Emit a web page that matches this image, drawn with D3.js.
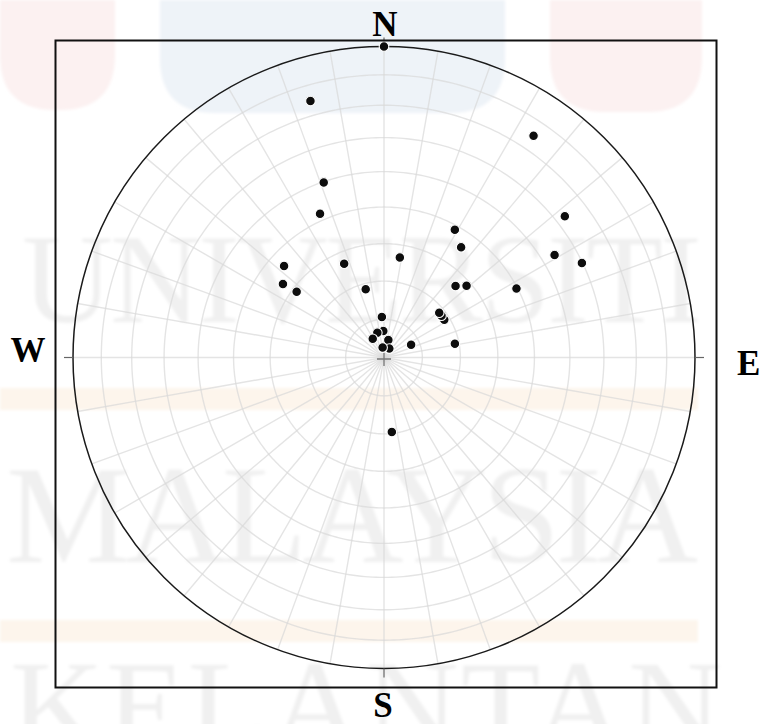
<!DOCTYPE html>
<html>
<head>
<meta charset="utf-8">
<script src="https://cdn.jsdelivr.net/npm/d3@7"></script>
<style>
  html, body { margin: 0; padding: 0; background: #fff; }
  svg { display: block; }
</style>
</head>
<body>
<svg id="chart" width="759" height="724"></svg>
<script>
// Poles to discontinuity planes: trend (deg, clockwise from N) and plunge (deg)
const poleTrend = [
  344, 341, 336, 312.5, 306, 307, 337, 345, 9, 34, 52, 29, 35, 59, 64.5, 45, 49, 62.5,
  58, 54, 51, 65, 79, 357, 358.5, 345, 329, 14, 31, 352, 0, 174
];
const polePlunge = [
  15.3, 40.2, 48.1, 54.1, 57.0, 61.2, 63.2, 71.5, 63.4, 15.1, 27.1, 51.2, 54.4, 36.2, 30.2, 63.4, 61.2, 50.3,
  71.4, 71.4, 71.4, 82.2, 71.1, 79.4, 83.1, 83.3, 84.3, 85.3, 87.3, 87.4, 0, 70.4
];

// Compass labels
const dirLabels = ["N", "E", "S", "W"];
const dirAzimuth = [0, 90, 180, 270];

// Grid spacing (degrees) for the polar net
const ringPlunges = [10, 20, 30, 40, 50, 60, 70, 80];
const radialTrends = d3.range(0, 360, 10);

const svg = d3.select("#chart");
const W = 759, H = 724;
const cx = 384, cy = 357.5, R = 311;

// ---- faint letterhead background ----
const defs = svg.append("defs");
defs.append("filter").attr("id", "soft")
  .attr("x", "-5%").attr("y", "-5%").attr("width", "110%").attr("height", "110%")
  .append("feGaussianBlur").attr("stdDeviation", 1.6);

const bg = svg.append("g");
bg.append("rect").attr("width", W).attr("height", H).attr("fill", "#fff");
const soft = bg.append("g").attr("filter", "url(#soft)");
const blobs = [
  { x: 0, w: 115, h: 110, c: "#fcf1f1" },
  { x: 160, w: 345, h: 113, c: "#eef3f8" },
  { x: 550, w: 152, h: 112, c: "#fcf1f1" }
];
soft.selectAll("path.blob").data(blobs).join("path")
  .attr("class", "blob")
  .attr("fill", d => d.c)
  .attr("d", d => {
    const r = Math.min(d.w / 2, 55);
    return `M${d.x},0 H${d.x + d.w} V${d.h - r} Q${d.x + d.w},${d.h} ${d.x + d.w - r},${d.h} H${d.x + r} Q${d.x},${d.h} ${d.x},${d.h - r} Z`;
  });
soft.selectAll("rect.band").data([388, 620]).join("rect")
  .attr("class", "band")
  .attr("x", 0).attr("y", d => d).attr("width", 698).attr("height", 22)
  .attr("fill", "#fdf5ec");
const wm = [
  { t: "UNIVERSITI", x: 22, y: 322, len: 680, fs: 126 },
  { t: "MALAYSIA", x: 6, y: 562, len: 692, fs: 140 },
  { t: "KELANTAN", x: 10, y: 750, len: 712, fs: 130 }
];
soft.selectAll("text.wm").data(wm).join("text")
  .attr("class", "wm")
  .attr("x", d => d.x).attr("y", d => d.y)
  .attr("textLength", d => d.len).attr("lengthAdjust", "spacing")
  .attr("font-family", "Liberation Serif, Times New Roman, serif")
  .attr("font-size", d => d.fs)
  .attr("fill", "#000").attr("fill-opacity", 0.06)
  .text(d => d.t);

// ---- equal-area (Schmidt) lower-hemisphere projection ----
const proj = d3.geoAzimuthalEqualArea()
  .rotate([0, -90])
  .scale(R / Math.SQRT2)
  .translate([cx, cy])
  .precision(0.1);
const geo = d3.geoPath(proj);
const toLonLat = (trend, plunge) => [180 - trend, plunge];

// Polar grid
const grid = svg.append("g")
  .attr("fill", "none")
  .attr("stroke", "#d9d9d9")
  .attr("stroke-opacity", 0.7)
  .attr("stroke-width", 1.4);
grid.selectAll("path.ring").data(ringPlunges).join("path")
  .attr("class", "ring")
  .attr("d", p => geo(d3.geoCircle().center([0, 90]).radius(90 - p).precision(1)()));
grid.selectAll("path.radial").data(radialTrends).join("path")
  .attr("class", "radial")
  .attr("d", t => geo({ type: "LineString", coordinates: [toLonLat(t, 0), toLonLat(t, 90)] }));

// Primitive circle
svg.append("circle")
  .attr("cx", cx).attr("cy", cy).attr("r", R)
  .attr("fill", "none").attr("stroke", "#1a1a1a").attr("stroke-width", 1.5);

// Cardinal ticks just outside the primitive
const tickLen = 9;
svg.append("g").selectAll("line").data(dirAzimuth).join("line")
  .attr("x1", a => cx + R * Math.sin(a * Math.PI / 180))
  .attr("y1", a => cy - R * Math.cos(a * Math.PI / 180))
  .attr("x2", a => cx + (R + tickLen) * Math.sin(a * Math.PI / 180))
  .attr("y2", a => cy - (R + tickLen) * Math.cos(a * Math.PI / 180))
  .attr("stroke", "#666").attr("stroke-width", 1.2);

// Centre cross
const cs = 7;
svg.append("path")
  .attr("d", `M${cx - cs},${cy + 1.5}H${cx + cs}M${cx},${cy + 1.5 - cs}V${cy + 1.5 + cs}`)
  .attr("stroke", "#777").attr("stroke-width", 1.3);

// Poles
const poles = poleTrend.map((t, i) => ({ t, p: polePlunge[i] }));
svg.append("g").selectAll("circle").data(poles).join("circle")
  .attr("cx", d => proj(toLonLat(d.t, d.p))[0])
  .attr("cy", d => proj(toLonLat(d.t, d.p))[1])
  .attr("r", 4.8)
  .attr("fill", "#0d0d0d")
  .attr("stroke", "#fff").attr("stroke-width", 1.1);

// Frame
svg.append("rect")
  .attr("x", 55.5).attr("y", 40.5).attr("width", 661).attr("height", 647)
  .attr("fill", "none").attr("stroke", "#111").attr("stroke-width", 2);

// Compass letters
const labelPos = {
  N: [385, 36, "middle"],
  E: [737, 375, "start"],
  S: [383, 717, "middle"],
  W: [28, 362, "middle"]
};
svg.append("g").selectAll("text").data(dirLabels).join("text")
  .attr("x", d => labelPos[d][0])
  .attr("y", d => labelPos[d][1])
  .attr("text-anchor", d => labelPos[d][2])
  .attr("font-family", "Liberation Serif, Times New Roman, serif")
  .attr("font-weight", "bold")
  .attr("font-size", 35)
  .attr("fill", "#000")
  .text(d => d);
</script>
</body>
</html>
